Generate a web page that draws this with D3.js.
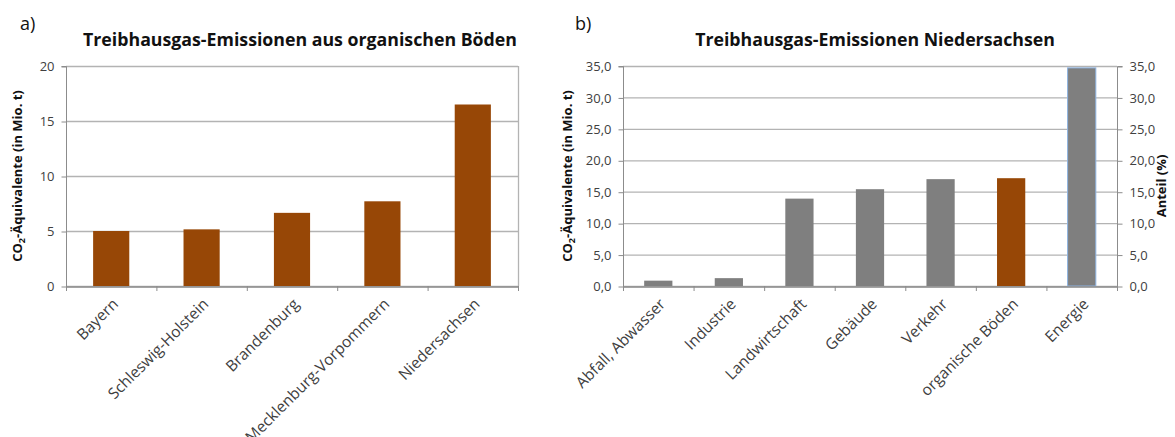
<!DOCTYPE html>
<html><head><meta charset="utf-8">
<script src="https://cdn.jsdelivr.net/npm/d3@7"></script>
<style>
body{margin:0;background:#fff;}
svg{display:block;font-family:"Open Sans",sans-serif;}
</style></head>
<body><svg id="c" width="1175" height="437"></svg>
<script>
// ---- data ----
const statesA = ["Bayern","Schleswig-Holstein","Brandenburg","Mecklenburg-Vorpommern","Niedersachsen"];
const valuesA = [5.0, 5.15, 6.65, 7.7, 16.5];
const ticksA = [0,5,10,15,20];

const sectorsB = ["Abfall, Abwasser","Industrie","Landwirtschaft","Gebäude","Verkehr","organische Böden","Energie"];
const valuesB = [0.85, 1.25, 13.9, 15.4, 17.0, 17.15, 34.7];
const ticksB = [0,5,10,15,20,25,30,35];

const titleA = "Treibhausgas-Emissionen aus organischen Böden";
const titleB = "Treibhausgas-Emissionen Niedersachsen";

const BROWN = "#974706", GRAY = "#7f7f7f", GRID = "#b3b3b3", AXIS = "#8c8c8c", TXT = "#404040";

const svg = d3.select("#c");

function fit(sel, target){
  let fs = parseFloat(sel.style("font-size"));
  const w = sel.node().getComputedTextLength();
  sel.style("font-size", (fs*target/w).toFixed(2)+"px");
}

function panel(opt){
  const g = svg.append("g");
  const x = d3.scaleBand().domain(opt.cats).range([opt.x0,opt.x1]).paddingInner(0.6).paddingOuter(0.3);
  const xb = d3.scaleBand().domain(opt.cats).range([opt.x0,opt.x1]);
  const y = d3.scaleLinear().domain([0,opt.max]).range([286,66]);
  // gridlines
  g.append("g").selectAll("line").data(opt.ticks).join("line")
    .attr("x1",opt.x0).attr("x2",opt.x1).attr("y1",d=>y(d)+0.5).attr("y2",d=>y(d)+0.5)
    .attr("stroke",GRID).attr("stroke-width",1.3);
  // left axis
  const ya = d3.axisLeft(y).tickValues(opt.ticks).tickSize(5).tickPadding(7).tickFormat(opt.fmt);
  const gy = g.append("g").attr("transform",`translate(${opt.x0+0.5},0.5)`).call(ya);
  gy.select(".domain").attr("stroke",AXIS).attr("d",`M-5,${y(opt.max)}H0V${y(0)}`);
  gy.selectAll(".tick line").attr("stroke",AXIS);
  gy.selectAll("text").attr("fill",TXT).style("font-size","13px").style("font-family","Open Sans");
  if(opt.right){
    const yr = d3.axisRight(y).tickValues(opt.ticks).tickSize(5).tickPadding(7).tickFormat(opt.fmt);
    const gr = g.append("g").attr("transform",`translate(${opt.x1+0.5},0.5)`).call(yr);
    gr.select(".domain").attr("stroke",AXIS).attr("d",`M5,${y(opt.max)}H0V${y(0)}`);
    gr.selectAll(".tick line").attr("stroke",AXIS);
    gr.selectAll("text").attr("fill",TXT).style("font-size","13px").style("font-family","Open Sans");
  } else {
    g.append("line").attr("x1",opt.x1+0.5).attr("x2",opt.x1+0.5).attr("y1",y(opt.max)).attr("y2",y(0))
      .attr("stroke",GRID).attr("stroke-width",1.3);
  }
  // bars
  g.append("g").selectAll("rect").data(opt.vals).join("rect")
    .attr("x",(d,i)=>x(opt.cats[i])).attr("width",x.bandwidth())
    .attr("y",d=>y(d)).attr("height",d=>y(0)-y(d))
    .attr("fill",(d,i)=>opt.colors[i])
    .attr("stroke",(d,i)=>opt.strokes ? opt.strokes[i] : "none").attr("stroke-width",1);
  // x axis
  const xa = d3.axisBottom(xb).tickSize(0).tickFormat("");
  const gx = g.append("g").attr("transform",`translate(0,${y(0)+0.5})`).call(xa);
  gx.select(".domain").attr("stroke",AXIS).attr("stroke-width",1.3);
  const bounds = opt.cats.map(c=>xb(c)).concat([opt.x1]);
  g.append("g").selectAll("line").data(bounds).join("line")
    .attr("x1",d=>d+0.5).attr("x2",d=>d+0.5).attr("y1",y(0)).attr("y2",y(0)+5).attr("stroke",AXIS);
  // category labels
  g.append("g").selectAll("text").data(opt.cats).join("text")
    .attr("transform",d=>`translate(${xb(d)+xb.bandwidth()/2+8},${y(0)+19}) rotate(-45)`)
    .attr("text-anchor","end").attr("fill",TXT).style("font-size","15.5px").text(d=>d);
  // title
  const t = g.append("text").attr("x",opt.tx).attr("y",46).attr("text-anchor","middle")
    .style("font-weight","bold").style("font-size","17px").attr("fill","#111").text(opt.title);
  fit(t, opt.tw);
  // panel letter
  g.append("text").attr("x",opt.lx).attr("y",30).style("font-size","18px").attr("fill","#111").text(opt.letter);
  // y title
  const yt = g.append("text").attr("transform",`translate(${opt.ytx},176) rotate(-90)`).attr("text-anchor","middle")
    .style("font-weight","bold").style("font-size","13px").attr("fill","#111");
  yt.append("tspan").text("CO");
  yt.append("tspan").attr("dy",3).style("font-size","9px").text("2");
  yt.append("tspan").attr("dy",-3).text("-Äquivalente (in Mio. t)");
  if(opt.right){
    g.append("text").attr("transform",`translate(${opt.rtx},186) rotate(-90)`).attr("text-anchor","middle")
      .style("font-weight","bold").style("font-size","13px").attr("fill","#111").text("Anteil (%)");
  }
  return g;
}

panel({cats:statesA, vals:valuesA, ticks:ticksA, max:20, x0:66, x1:518,
  fmt:d3.format("d"), colors:statesA.map(()=>BROWN), title:titleA, tx:300, tw:434,
  letter:"a)", lx:20, ytx:22, right:false});

const fmtB = v=>d3.format(".1f")(v).replace(".",",");
panel({cats:sectorsB, vals:valuesB, ticks:ticksB, max:35, x0:623, x1:1117,
  fmt:fmtB, colors:sectorsB.map(s=>s==="organische Böden"?BROWN:GRAY),
  strokes:sectorsB.map(s=>s==="Energie"?"#8db3e2":"none"),
  title:titleB, tx:875, tw:360, letter:"b)", lx:575, ytx:572, right:true, rtx:1166});
</script></body></html>
